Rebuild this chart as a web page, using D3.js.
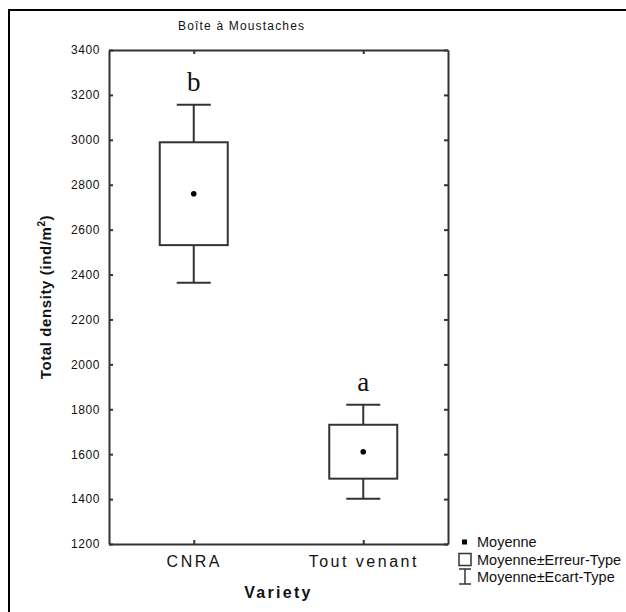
<!DOCTYPE html>
<html>
<head>
<meta charset="utf-8">
<script src="https://cdn.jsdelivr.net/npm/d3@7"></script>
<style>
  body { margin: 0; background: #fff; overflow: hidden; }
  text { font-family: "Liberation Sans", Arial, sans-serif; fill: #111; }
</style>
</head>
<body>
<svg id="chart" width="626" height="612"></svg>
<script>
// data
const varieties = ['CNRA', 'Tout venant'];
const means = [2760, 1611];
const stdErrs = [229, 120];
const stdDevs = [396, 209];
const groupLetters = ['b', 'a'];
const yTicks = [1200, 1400, 1600, 1800, 2000, 2200, 2400, 2600, 2800, 3000, 3200, 3400];
const legendItems = ['Moyenne', 'Moyenne\u00b1Erreur-Type', 'Moyenne\u00b1Ecart-Type'];

const svg = d3.select('#chart');

// outer frame (clipped at right / bottom)
svg.append('rect')
  .attr('x', 9).attr('y', 10)
  .attr('width', 640).attr('height', 640)
  .attr('fill', 'none').attr('stroke', '#000').attr('stroke-width', 2);

const plot = { left: 109, top: 50, right: 448, bottom: 544 };

const x = d3.scalePoint()
  .domain(varieties)
  .range([plot.left, plot.right])
  .padding(0.5);

const y = d3.scaleLinear()
  .domain([1200, 3400])
  .range([plot.bottom, plot.top]);

const axisColor = '#333';

// title
svg.append('text')
  .attr('x', 241).attr('y', 30)
  .attr('text-anchor', 'middle')
  .style('font-size', '12px')
  .attr('textLength', 126).attr('lengthAdjust', 'spacing')
  .text('Bo\u00eete \u00e0 Moustaches');

// axes
const axLeft = svg.append('g')
  .attr('transform', `translate(${plot.left},0)`)
  .call(d3.axisLeft(y).tickValues(yTicks).tickSizeInner(-4).tickSizeOuter(0).tickPadding(9).tickFormat(d3.format('d')));
const axRight = svg.append('g')
  .attr('transform', `translate(${plot.right},0)`)
  .call(d3.axisRight(y).tickValues(yTicks).tickSizeInner(-4).tickSizeOuter(0).tickFormat(''));
const axBottom = svg.append('g')
  .attr('transform', `translate(0,${plot.bottom})`)
  .call(d3.axisBottom(x).tickSizeInner(-4).tickSizeOuter(0).tickPadding(12));
const axTop = svg.append('g')
  .attr('transform', `translate(0,${plot.top})`)
  .call(d3.axisTop(x).tickSizeInner(-4).tickSizeOuter(0).tickFormat(''));

[axLeft, axRight, axBottom, axTop].forEach(g => {
  g.select('.domain').attr('stroke', axisColor).attr('stroke-width', 2);
  g.selectAll('.tick line').attr('stroke', axisColor).attr('stroke-width', 2);
});
axLeft.selectAll('.tick text')
  .style('font-size', '12px').style('letter-spacing', '0.6px').attr('fill', '#111');
axBottom.selectAll('.tick text')
  .style('font-size', '16px').style('letter-spacing', '2.5px').attr('fill', '#111')
  .attr('dy', '0.71em');

// axis titles
svg.append('text')
  .attr('transform', `translate(51,${(plot.top + plot.bottom) / 2}) rotate(-90)`)
  .attr('text-anchor', 'middle')
  .style('font-size', '15px').style('font-weight', 'bold').style('letter-spacing', '0.6px')
  .call(t => {
    t.append('tspan').text('Total density (ind/m');
    t.append('tspan').attr('dy', -6).style('font-size', '10px').text('2');
    t.append('tspan').attr('dy', 6).text(')');
  });

svg.append('text')
  .attr('x', (plot.left + plot.right) / 2).attr('y', 598)
  .attr('text-anchor', 'middle')
  .style('font-size', '16px').style('font-weight', 'bold').style('letter-spacing', '2.3px')
  .text('Variety');

// boxes
const boxW = 68, capW = 34;
const groups = svg.append('g').selectAll('g')
  .data(varieties.map((v, i) => ({ v, m: means[i], se: stdErrs[i], sd: stdDevs[i], letter: groupLetters[i] })))
  .join('g')
  .attr('stroke', axisColor).attr('stroke-width', 2).attr('fill', 'none');

groups.append('line')
  .attr('x1', d => x(d.v)).attr('x2', d => x(d.v))
  .attr('y1', d => y(d.m + d.sd)).attr('y2', d => y(d.m + d.se));
groups.append('line')
  .attr('x1', d => x(d.v)).attr('x2', d => x(d.v))
  .attr('y1', d => y(d.m - d.se)).attr('y2', d => y(d.m - d.sd));
groups.append('line')
  .attr('x1', d => x(d.v) - capW / 2).attr('x2', d => x(d.v) + capW / 2)
  .attr('y1', d => y(d.m + d.sd)).attr('y2', d => y(d.m + d.sd));
groups.append('line')
  .attr('x1', d => x(d.v) - capW / 2).attr('x2', d => x(d.v) + capW / 2)
  .attr('y1', d => y(d.m - d.sd)).attr('y2', d => y(d.m - d.sd));
groups.append('rect')
  .attr('x', d => x(d.v) - boxW / 2).attr('width', boxW)
  .attr('y', d => y(d.m + d.se)).attr('height', d => y(d.m - d.se) - y(d.m + d.se));
groups.append('circle')
  .attr('cx', d => x(d.v)).attr('cy', d => y(d.m)).attr('r', 2.8)
  .attr('fill', '#000').attr('stroke', 'none');
groups.append('text')
  .attr('x', d => x(d.v)).attr('y', d => y(d.m + d.sd) - 14)
  .attr('text-anchor', 'middle').attr('stroke', 'none')
  .style('font-family', '"Liberation Serif", "Times New Roman", serif')
  .style('font-size', '27px')
  .text(d => d.letter);

// legend
const lx = 465, ly = [542, 560, 577];
const legend = svg.append('g');
legend.append('rect').attr('x', lx - 3).attr('y', ly[0] - 2.5).attr('width', 5).attr('height', 5).attr('fill', '#000');
legend.append('rect').attr('x', lx - 6).attr('y', ly[1] - 6.5).attr('width', 12).attr('height', 12)
  .attr('fill', 'none').attr('stroke', axisColor).attr('stroke-width', 1.5);
const wh = legend.append('g').attr('stroke', axisColor).attr('stroke-width', 1.5);
wh.append('line').attr('x1', lx - 6).attr('x2', lx + 6).attr('y1', ly[2] - 8).attr('y2', ly[2] - 8);
wh.append('line').attr('x1', lx - 6).attr('x2', lx + 6).attr('y1', ly[2] + 7).attr('y2', ly[2] + 7);
wh.append('line').attr('x1', lx).attr('x2', lx).attr('y1', ly[2] - 8).attr('y2', ly[2] + 7);
legend.selectAll('text.lab')
  .data(legendItems)
  .join('text')
  .attr('class', 'lab')
  .attr('x', 477).attr('y', (d, i) => ly[i])
  .attr('dy', '0.35em')
  .style('font-size', '14.5px')
  .text(d => d);
</script>
</body>
</html>
